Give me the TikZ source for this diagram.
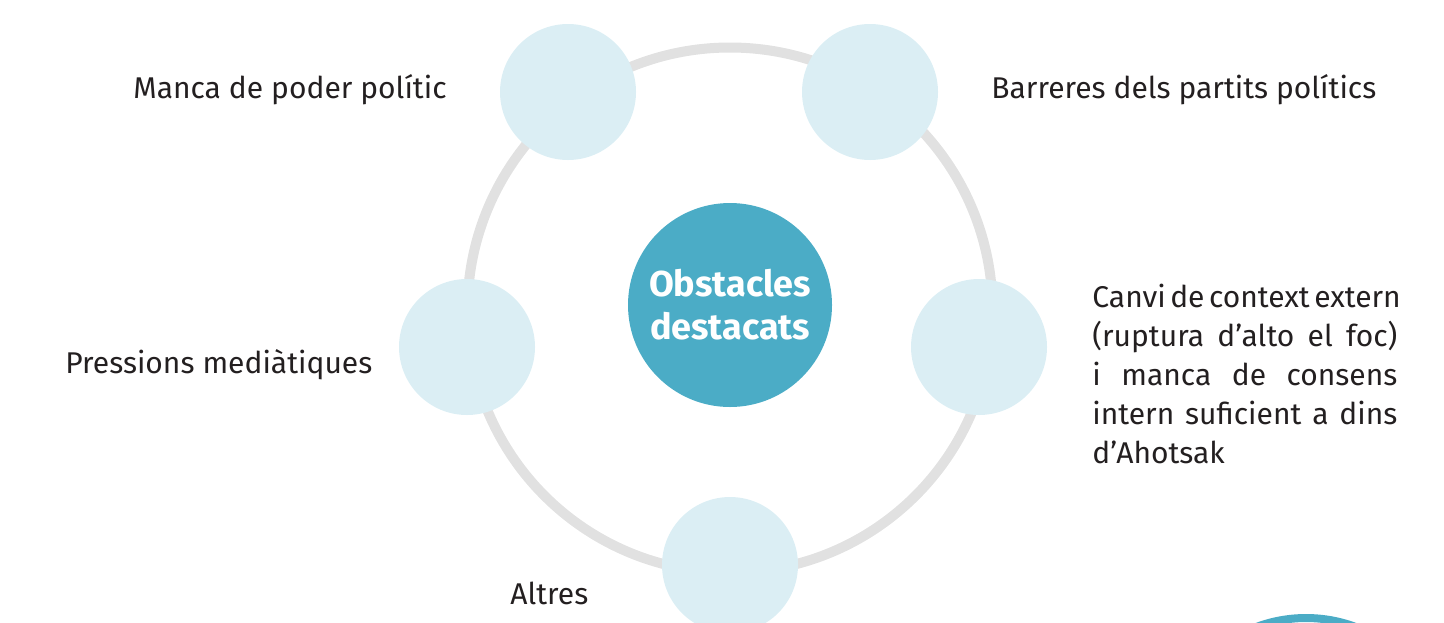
\documentclass[tikz,border=0pt]{standalone}
\usepackage{fontspec}
\setmainfont{Fira Sans}
\usetikzlibrary{positioning}
\definecolor{ringgray}{HTML}{E1E1E1}
\definecolor{tealmain}{HTML}{4BACC6}
\definecolor{teallight}{HTML}{DBEEF4}
\definecolor{inkdark}{HTML}{231F20}
\newcommand{\fullline}[1]{\makebox[152.5pt][s]{\spaceskip=0.15em plus 1fil\relax #1}}

\begin{document}
\begin{tikzpicture}[x=0.5pt,y=-0.5pt,
        smallball/.style={circle, fill=teallight, minimum size=68pt, inner sep=0pt},
        bigball/.style={circle, fill=tealmain, minimum size=102pt, inner sep=0pt, text=white, align=center, font=\fontsize{18}{21.5}\selectfont\bfseries},
        itemtext/.style={text=inkdark, inner sep=0pt, font=\fontsize{15}{19.5}\selectfont}]
    \useasboundingbox (0,0) rectangle (1444,622);
    % ring behind the balls
    \draw[ringgray, line width=5pt] (730,310) circle[radius=131.25pt];
    \node[bigball] (centre) at (730,305) {Obstacles\\destacats};
    \node[smallball] (ballA) at (568,92) {};
    \node[smallball] (ballB) at (870,92) {};
    \node[smallball] (ballC) at (467,347) {};
    \node[smallball] (ballD) at (979,347) {};
    \node[smallball] (ballE) at (730,565) {};
    % labels
    \node[itemtext, anchor=base east] (manca) at (447,98) {Manca de poder polític};
    \node[itemtext, anchor=base west] (barreres) at (991,98) {Barreres dels partits polítics};
    \node[itemtext, anchor=base west] (pressions) at (65,373) {Pressions mediàtiques};
    \node[itemtext, anchor=base west] (altres) at (510,604) {Altres};
    \node[itemtext, anchor=north west, text width=152.5pt, align=left] (canvi) at (1092,284)
        {\fullline{Canvi de context extern}\\\fullline{(ruptura d’alto el foc)}\\\fullline{i manca de consens}\\\fullline{intern suficient a dins}\\d’Ahotsak};
    % next diagram peeking in at the corner
    \begin{scope}
        \clip (0,0) rectangle (1444,622);
        \draw[tealmain, line width=4pt, fill=white] (1306,759) circle[radius=70.5pt];
    \end{scope}
\end{tikzpicture}
\end{document}
